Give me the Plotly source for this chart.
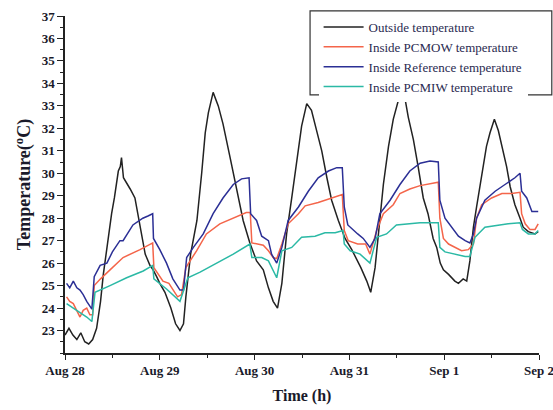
import plotly.graph_objects as go

# ---- data (hours since Aug 28 00:00) ----
out_t = [0, 1, 2, 3, 4, 5, 6, 7, 8, 9, 9.7, 10.8, 11.8, 12.5, 13.5, 14.0, 14.3, 14.8, 15.5, 16.5, 17.7, 19, 20.3,
         21.5, 22.3, 23.2, 24, 25.3, 26.8, 28, 29.1, 30, 30.6, 31.8, 33.4, 34.6, 35.5, 36.3, 37.5, 38.8, 40, 41.8,
         43.5, 45.1, 46.8, 48.5, 50.2, 51.5, 52.7, 53.8, 54.9, 56.1, 57.4, 58.7, 59.9, 61.2, 62.4, 63.7, 65, 66.3,
         67.5, 69.2, 70.9, 72.6, 74.9, 76.4, 77.4, 78.5, 79.6, 80.6, 81.9, 83.1, 84.4, 85.6, 86.9, 88.2, 89.4, 90.7,
         91.9, 93.2, 94.1, 95, 95.8, 97.1, 98.7, 99.6, 100.8, 101.7, 102.5, 103.4, 104.2, 105.5, 106.7, 107.6,
         108.7, 109.7, 111, 111.8, 112.7, 113.9, 115.2, 116, 117.3, 119, 119.8]
out_v = [22.8, 23.1, 22.8, 22.6, 22.9, 22.5, 22.4, 22.6, 23.1, 24.3, 25.5, 27.0, 28.2, 28.9, 30.1, 30.3, 30.7, 29.8,
         29.6, 29.3, 28.9, 27.6, 26.4, 25.9, 25.7, 25.4, 25.1, 24.7, 24.0, 23.3, 23.0, 23.3, 24.5, 26.4, 27.9, 30.0,
         31.8, 32.7, 33.6, 33.0, 32.2, 30.7, 29.2, 27.9, 26.9, 26.1, 25.7, 24.9, 24.3, 24.0, 25.1, 27.3, 28.9, 30.7,
         32.1, 33.1, 32.8, 31.9, 31.0, 29.8, 28.8, 27.9, 27.1, 26.6, 25.8, 25.2, 24.7, 25.8, 27.7, 29.5, 31.2, 32.4,
         33.25, 33.8, 32.5, 31.5, 30.3, 28.9, 28.2, 27.1, 26.7, 26.0, 25.7, 25.5, 25.2, 25.1, 25.3, 25.2, 26.1, 27.6,
         28.5, 30.0, 31.2, 31.8, 32.4, 31.9, 30.9, 30.3, 29.4, 28.6, 28.0, 27.6, 27.4, 27.3, 27.4]

ref_t = [0.4, 1.2, 2.1, 3.0, 3.8, 4.6, 5.5, 6.2, 6.8, 7.4, 8.0, 8.9, 10.6, 12.0, 13.9, 14.7, 17.2, 19.7, 21.0, 22.2,
         22.4, 24, 25.7, 27.3, 29.1, 30.0, 30.8, 32.5, 35, 37.5, 40, 42.6, 44.7, 46.6, 47.0, 48.5, 49.8, 51.5, 52.3,
         53.6, 54.9, 56.5, 59.1, 61.6, 64.1, 66.7, 68.8, 70.2, 70.7, 71.6, 74.1, 75.5, 77.2, 78.5, 79.7, 82.3, 84.8,
         87.3, 89.9, 92.4, 94.5, 94.9, 96.2, 97.9, 99.6, 101.3, 102.5, 103.4, 104.2, 106.3, 108.9, 111.4, 113.9,
         115.2, 115.6, 116.9, 118.2, 119.8]
ref_v = [25.1, 24.9, 25.2, 24.9, 24.8, 24.6, 24.3, 24.1, 23.95, 25.4, 25.6, 25.9, 26.0, 26.5, 27.0, 27.0, 27.7,
         28.0, 28.1, 28.2, 27.1, 26.6, 26.0, 25.3, 24.8, 24.8, 26.25, 26.7, 27.3, 28.2, 28.9, 29.5, 29.75, 29.8,
         28.2, 27.9, 27.2, 27.0, 26.4, 26.0, 26.7, 27.9, 28.5, 29.2, 29.8, 30.1, 30.25, 30.25, 28.5, 27.7, 27.3, 27.1,
         26.7, 27.1, 28.2, 28.8, 29.5, 30.1, 30.45, 30.55, 30.5, 28.8, 28.0, 27.6, 27.2, 27.0, 26.9, 27.3, 28.0, 28.8,
         29.2, 29.5, 29.8, 30.0, 29.2, 28.9, 28.3, 28.3]

pcmow_t = [0.4, 1.2, 2.1, 3.0, 3.8, 4.6, 5.5, 6.3, 7.0, 7.4, 9.0, 11.4, 14.7, 19, 22.2, 22.5, 24.8, 26.3, 27.3,
           28.5, 29.5, 30.6, 33.3, 35.8, 39.2, 42.6, 45.9, 46.9, 47.3, 50.2, 51.5, 52.7, 53.6, 54.9, 56.5, 59.1,
           60.8, 64.1, 67.5, 70.2, 70.7, 71.7, 74.1, 76.1, 77.2, 78.9, 80.6, 83.1, 84.8, 87.3, 89.9, 92.4, 94.5,
           94.9, 95.8, 97.1, 98.7, 100.4, 102.1, 103.4, 104.2, 105.5, 108, 110.6, 113.1, 115.2, 115.6, 116.5, 117.7,
           119, 119.8]
pcmow_v = [24.5, 24.3, 24.2, 23.9, 23.6, 23.9, 24.0, 23.7, 23.7, 25.0, 25.3, 25.7, 26.25, 26.6, 26.9, 25.8, 25.2,
           25.1, 24.8, 24.5, 24.6, 25.8, 26.55, 27.3, 27.75, 28.0, 28.25, 28.25, 26.9, 26.8, 26.55, 26.25, 26.2, 26.85,
           27.75, 28.2, 28.55, 28.7, 28.9, 29.05, 27.45, 27.0, 26.85, 26.85, 26.4, 27.45, 28.2, 28.6, 29.1, 29.3,
           29.45, 29.55, 29.6, 28.0, 27.1, 26.85, 26.7, 26.55, 26.6, 26.85, 28.0, 28.6, 28.9, 29.1, 29.1, 29.15,
           28.2, 27.75, 27.5, 27.5, 27.75]

pcmiw_t = [0.4, 2.1, 3.8, 5.5, 6.8, 7.6, 11.4, 15.6, 19.8, 22.2, 22.5, 25.7, 29.1, 31.1, 34.2, 38.4, 42.6, 46.8,
           47.3, 49.8, 51.5, 53.6, 54.9, 57.4, 59.9, 63.3, 65.8, 68.4, 70.4, 70.7, 72.2, 74.7, 77.2, 78.9, 81.4,
           83.9, 86.5, 89.9, 94.5, 94.9, 96.2, 98.7, 101.3, 102.5, 103.8, 106.3, 109.7, 112.2, 115.2, 115.8, 117.3,
           119, 119.8]
pcmiw_v = [24.2, 24.0, 23.8, 23.6, 23.4, 24.7, 25.0, 25.35, 25.65, 25.9, 25.3, 24.85, 24.3, 25.35, 25.6, 26.0,
           26.4, 26.85, 26.25, 26.25, 26.1, 25.35, 26.55, 26.7, 27.15, 27.2, 27.35, 27.35, 27.45, 26.85, 26.55, 26.4,
           26.0, 27.15, 27.3, 27.7, 27.75, 27.8, 27.8, 26.7, 26.5, 26.4, 26.3, 26.3, 27.15, 27.6, 27.7, 27.75, 27.8,
           27.5, 27.3, 27.3, 27.45]

x_tick_vals = [0, 24, 48, 72, 96, 120]
x_tick_labels = ["Aug 28", "Aug 29", "Aug 30", "Aug 31", "Sep 1", "Sep 2"]
y_tick_vals = list(range(23, 38))

series = [
    ("Outside temperature", out_t, out_v, "#222222"),
    ("Inside PCMOW temperature", pcmow_t, pcmow_v, "#F4654A"),
    ("Inside Reference temperature", ref_t, ref_v, "#2B2F95"),
    ("Inside PCMIW temperature", pcmiw_t, pcmiw_v, "#2BB9A5"),
]

fig = go.Figure()
for name, t, v, c in series:
    fig.add_trace(go.Scatter(x=t, y=v, mode="lines", name=name,
                             line=dict(color=c, width=1.5)))

font_fam = "Liberation Serif"
# legend frame (drawn as a box in paper coordinates, the legend itself sits on top)
fig.add_shape(type="rect", xref="paper", yref="paper",
              x0=0.517, x1=1.027, y0=0.766, y1=1.015,
              line=dict(color="#333", width=1.2), fillcolor="white", layer="above")

fig.update_layout(
    width=553, height=410,
    margin=dict(l=65, r=14, t=16, b=57),
    paper_bgcolor="white", plot_bgcolor="white",
    font=dict(family=font_fam, color="#1a1a2a"),
    showlegend=True,
    legend=dict(x=0.535, y=1.012, xanchor="left", yanchor="top",
                bgcolor="white", borderwidth=0,
                font=dict(family=font_fam, size=13, color="#2a2a50"),
                tracegroupgap=0, itemwidth=40),
)
fig.update_xaxes(
    range=[0, 120], tickvals=x_tick_vals, ticktext=x_tick_labels,
    showgrid=False, zeroline=False, showline=True, linecolor="#222", linewidth=1.5,
    ticks="outside", ticklen=5, tickwidth=1.3, tickcolor="#222",
    minor=dict(dtick=12, tick0=0, ticks="outside", ticklen=3, tickwidth=1, tickcolor="#222", showgrid=False),
    tickfont=dict(family=font_fam, size=13, color="#1a1a2a", weight="bold"),
    ticklabeloverflow="allow",
    title=dict(text="<b>Time (h)</b>", font=dict(family=font_fam, size=16, color="#1a1a2a"), standoff=12),
    automargin=False,
)
fig.update_yaxes(
    range=[22, 37], tickvals=y_tick_vals,
    showgrid=False, zeroline=False, showline=True, linecolor="#222", linewidth=1.5,
    ticks="outside", ticklen=6, tickwidth=1.3, tickcolor="#222",
    minor=dict(dtick=0.5, tick0=22, ticks="outside", ticklen=3, tickwidth=1, tickcolor="#222", showgrid=False),
    tickfont=dict(family=font_fam, size=13, color="#1a1a2a", weight="bold"),
    title=dict(text="<b>Temperature(<sup>o</sup>C)</b>", font=dict(family=font_fam, size=18, color="#1a1a2a"), standoff=6),
    automargin=False,
)

fig.write_html("out.html")
